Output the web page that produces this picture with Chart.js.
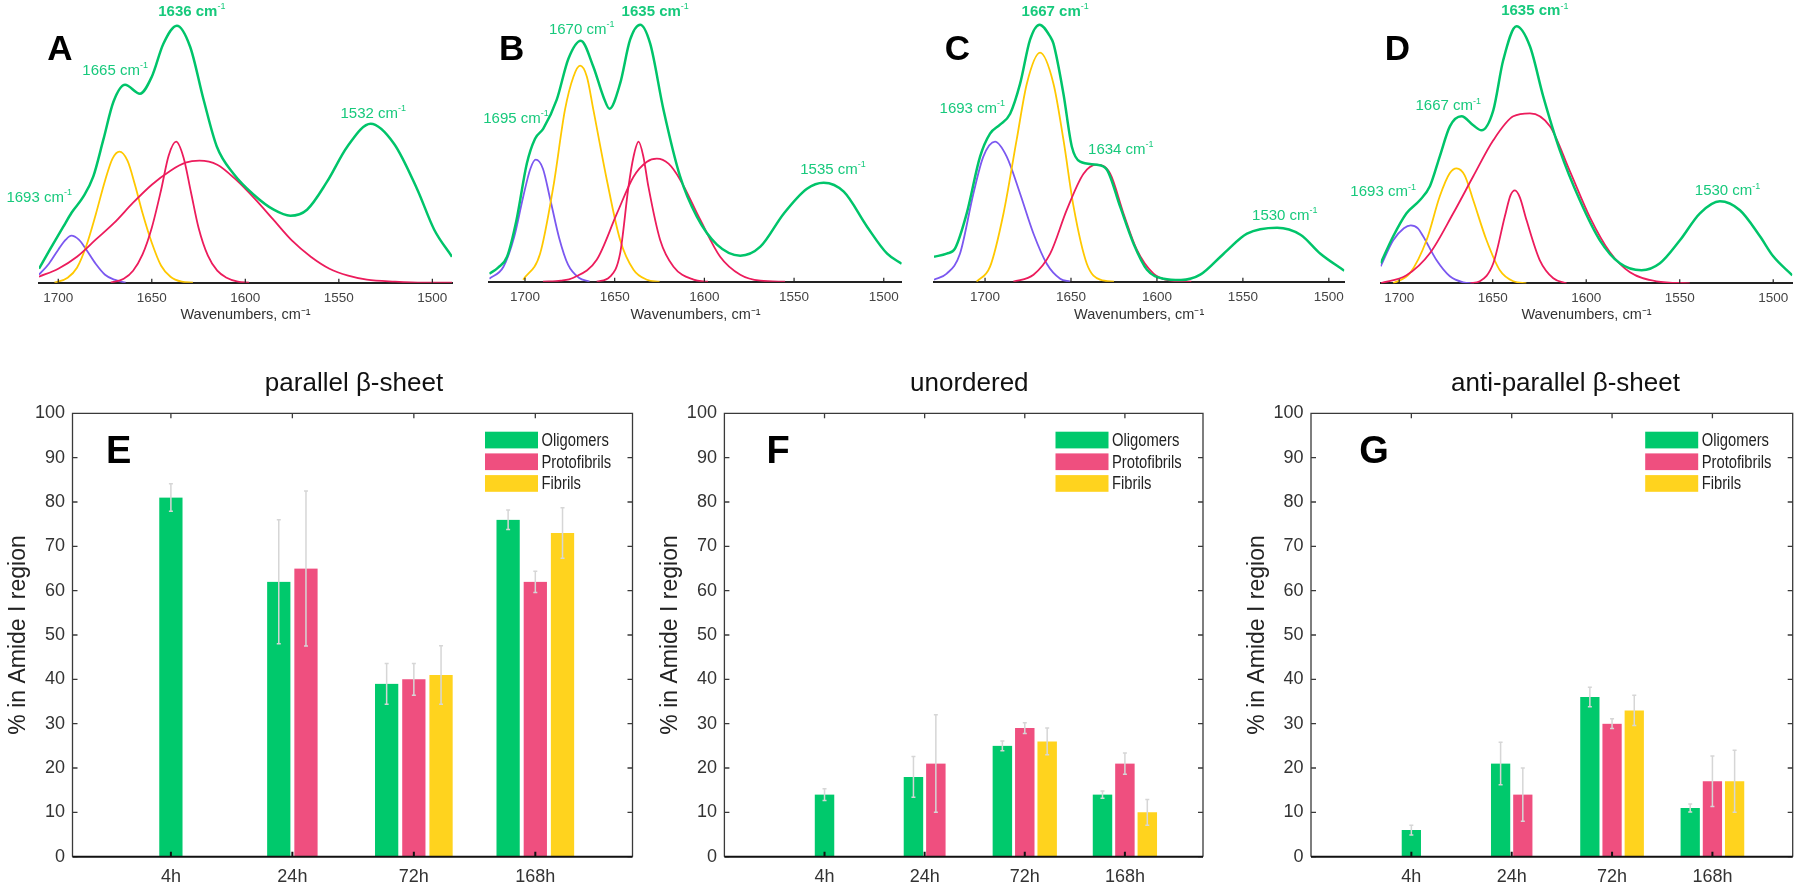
<!DOCTYPE html>
<html>
<head>
<meta charset="utf-8">
<script src="https://cdn.jsdelivr.net/npm/chart.js@4.4.1/dist/chart.umd.min.js"></script>
<style>
  body { margin: 0; background: #fff; width: 1800px; height: 888px; position: relative; overflow: hidden; }
  .panel { position: absolute; }
</style>
</head>
<body>
<div class="panel" style="left:0;top:0;width:470px;height:330px"><canvas id="specA"></canvas></div>
<div class="panel" style="left:470px;top:0;width:445px;height:330px"><canvas id="specB"></canvas></div>
<div class="panel" style="left:915px;top:0;width:445px;height:330px"><canvas id="specC"></canvas></div>
<div class="panel" style="left:1330px;top:0;width:470px;height:330px"><canvas id="specD"></canvas></div>
<div class="panel" style="left:0;top:370px;width:650px;height:518px"><canvas id="barE"></canvas></div>
<div class="panel" style="left:650px;top:370px;width:590px;height:518px"><canvas id="barF"></canvas></div>
<div class="panel" style="left:1240px;top:370px;width:560px;height:518px"><canvas id="barG"></canvas></div>
<script>
// ---- spectra, [wavenumber, absorbance a.u.] ----
var specA_sum = [[1710.3,0.14],[1704.5,0.33],[1697.3,0.56],[1692.9,0.70],[1686.6,0.86],[1681.3,1.06],[1675.9,1.43],[1670.5,1.81],[1664.3,1.98],[1656.3,1.89],[1650,2.06],[1643.8,2.39],[1636.6,2.57],[1629.5,2.36],[1622.3,1.83],[1615.2,1.36],[1606.3,1.09],[1595.5,0.88],[1584.8,0.73],[1575.9,0.67],[1567,0.73],[1556.3,1.01],[1545.5,1.36],[1533,1.59],[1520.5,1.39],[1508,0.93],[1499,0.53],[1489.5,0.26]];
var specA_1693 = [[1710.3,0.08],[1705,0.19],[1700,0.33],[1696,0.43],[1693,0.47],[1689,0.43],[1685,0.33],[1680,0.19],[1675,0.08],[1670,0.03],[1664,0]];
var specA_1665 = [[1702,0],[1695,0.05],[1690,0.15],[1685,0.37],[1680,0.68],[1675,1.02],[1671,1.24],[1667.3,1.31],[1663,1.22],[1659,0.98],[1655,0.7],[1650,0.4],[1645,0.17],[1640,0.06],[1634,0.01],[1628,0]];
var specA_1636 = [[1672,0],[1665,0.04],[1660,0.12],[1655,0.28],[1650,0.55],[1645,0.93],[1641,1.27],[1637,1.41],[1633,1.25],[1629,0.9],[1625,0.55],[1620,0.27],[1615,0.12],[1610,0.05],[1604,0.01],[1598,0]];
var specA_broad = [[1710.3,0.06],[1700,0.14],[1690,0.26],[1680,0.43],[1670,0.6],[1660,0.8],[1650,0.98],[1640,1.12],[1632,1.2],[1624.5,1.22],[1615,1.18],[1605,1.03],[1595,0.84],[1585,0.63],[1575,0.42],[1565,0.26],[1555,0.14],[1545,0.07],[1535,0.03],[1520,0.01],[1505,0],[1489.5,0]];
var specA_labels = [['1636 cm', 1628.6, 2.71, true], ['1665 cm', 1669.6, 2.12, false], ['1693 cm', 1710.2, 0.85, false], ['1532 cm', 1531.6, 1.69, false]];

var specB_sum = [[1719.9,0.08],[1715,0.14],[1710,0.25],[1704.7,0.62],[1699,1.18],[1694.4,1.43],[1689.8,1.53],[1682.3,1.82],[1675.8,2.23],[1668.9,2.41],[1661.9,2.15],[1656.3,1.85],[1652.9,1.73],[1647,1.98],[1641.4,2.42],[1635.8,2.57],[1630.2,2.38],[1622.8,1.72],[1613.5,1.05],[1604.2,0.65],[1593,0.37],[1580,0.26],[1568.8,0.35],[1555.8,0.68],[1542.8,0.93],[1533.5,0.99],[1522.3,0.9],[1509.3,0.55],[1498.1,0.28],[1490,0.18]];
var specB_1695 = [[1719.9,0.03],[1712,0.15],[1706,0.45],[1701,0.85],[1697,1.13],[1694,1.22],[1690,1.13],[1686,0.83],[1681,0.44],[1676,0.17],[1670,0.04],[1664,0]];
var specB_1670 = [[1701,0.02],[1691.6,0.28],[1684.2,0.95],[1677.7,1.72],[1673,2.05],[1669.3,2.16],[1665.5,2.05],[1661.9,1.72],[1654.4,1.02],[1647,0.42],[1639.5,0.12],[1632,0.02],[1625,0]];
var specB_1635 = [[1660,0],[1652.6,0.05],[1647,0.28],[1642.3,0.95],[1639.5,1.25],[1636.7,1.40],[1634,1.25],[1631.2,0.95],[1624.7,0.42],[1617.2,0.15],[1606,0.02],[1598,0]];
var specB_broad = [[1690,0],[1680,0.01],[1673,0.04],[1660,0.22],[1648.8,0.68],[1639.5,1.05],[1632,1.2],[1626.5,1.23],[1620,1.18],[1613.5,1.02],[1602.3,0.62],[1591.2,0.25],[1580,0.07],[1568.8,0.01],[1555,0]];
var specB_labels = [['1635 cm', 1627.4, 2.70, true], ['1670 cm', 1668.4, 2.52, false], ['1695 cm', 1705, 1.63, false], ['1535 cm', 1528.3, 1.12, false]];

var specC_sum = [[1729.7,0.25],[1722.3,0.28],[1717.5,0.33],[1710.7,0.68],[1702.9,1.25],[1697.1,1.48],[1691.3,1.57],[1685.4,1.68],[1679.6,1.98],[1673.8,2.42],[1668.3,2.57],[1662.1,2.45],[1660.2,2.38],[1654.4,1.88],[1649.5,1.35],[1644.7,1.2],[1635,1.17],[1629.1,1.12],[1621.4,0.75],[1613.6,0.38],[1605.8,0.12],[1596.1,0.03],[1586,0.017],[1574.8,0.07],[1561.2,0.28],[1547.6,0.48],[1530.1,0.54],[1516.5,0.47],[1504.9,0.28],[1491,0.11]];
var specC_1693 = [[1729.7,0.02],[1722.3,0.08],[1714.6,0.28],[1706.8,0.88],[1701,1.25],[1694.2,1.40],[1687.4,1.25],[1679.6,0.88],[1671.8,0.48],[1664.1,0.18],[1656.3,0.03],[1650.5,0]];
var specC_1667 = [[1704.9,0],[1697.1,0.15],[1689.3,0.68],[1681.6,1.42],[1675.7,1.98],[1668,2.29],[1660.2,1.98],[1654.4,1.42],[1648.5,0.75],[1640.8,0.18],[1633,0.02],[1625,0]];
var specC_1634 = [[1683.5,0],[1671.8,0.07],[1662.1,0.28],[1652.4,0.72],[1642.7,1.08],[1635,1.17],[1627.2,1.08],[1619.4,0.68],[1611.7,0.32],[1602,0.08],[1592.2,0.01],[1580,0]];
var specC_labels = [['1667 cm', 1659.2, 2.70, true], ['1693 cm', 1707.4, 1.73, false], ['1634 cm', 1621, 1.32, false], ['1530 cm', 1525.6, 0.66, false]];

var specD_sum = [[1709.9,0.2],[1703.2,0.47],[1696.1,0.7],[1689,0.83],[1683.6,0.97],[1678.3,1.27],[1672.9,1.57],[1666.7,1.67],[1660.4,1.58],[1656,1.53],[1649.7,1.73],[1644.4,2.23],[1637.3,2.57],[1630.1,2.37],[1623,1.87],[1614.1,1.33],[1603.4,0.83],[1592.7,0.43],[1582,0.2],[1570.4,0.13],[1560.6,0.2],[1549.9,0.43],[1539.2,0.7],[1528.5,0.82],[1517.8,0.73],[1507.1,0.47],[1500,0.27],[1489.8,0.08]];
var specD_1693 = [[1709.9,0.17],[1703.2,0.43],[1697.5,0.55],[1693.8,0.58],[1690,0.55],[1687.2,0.47],[1680,0.23],[1672.9,0.07],[1665.8,0.01],[1660,0]];
var specD_1667 = [[1703.2,0],[1694.3,0.1],[1685.4,0.43],[1678.3,0.87],[1673,1.1],[1669.3,1.15],[1665,1.08],[1660.4,0.83],[1653.3,0.43],[1646.2,0.13],[1639,0.02],[1632,0]];
var specD_1635 = [[1662,0],[1656.9,0.02],[1649.7,0.2],[1643.5,0.67],[1640.5,0.88],[1638.1,0.93],[1635.5,0.86],[1631.9,0.63],[1624.8,0.23],[1617.6,0.05],[1610.5,0]];
var specD_broad = [[1709.9,0],[1696.1,0.08],[1683.6,0.3],[1671.1,0.7],[1660.4,1.07],[1649.7,1.43],[1639,1.67],[1630.1,1.7],[1619.4,1.57],[1608.7,1.12],[1598,0.66],[1587.3,0.31],[1576.6,0.11],[1562.4,0.02],[1544.6,0]];
var specD_labels = [['1635 cm', 1627.5, 2.72, true], ['1667 cm', 1673.8, 1.77, false], ['1693 cm', 1708.6, 0.91, false], ['1530 cm', 1524.4, 0.92, false]];

// ---- secondary structure fractions (% of Amide I) ----
var timeLabels = ['4h', '24h', '72h', '168h'];
var seriesNames = ['Oligomers', 'Protofibrils', 'Fibrils'];

var parOligo = [81, 62, 39, 76],       parOligoErr = [3.1, 14, 4.6, 2.2];
var parProto = [null, 65, 40, 62],     parProtoErr = [0, 17.5, 3.6, 2.4];
var parFibril = [null, null, 41, 73],  parFibrilErr = [0, 0, 6.6, 5.7];

var unoOligo = [14, 18, 25, 14],       unoOligoErr = [1.3, 4.6, 1.1, 0.8];
var unoProto = [null, 21, 29, 21],     unoProtoErr = [0, 11, 1.2, 2.4];
var unoFibril = [null, null, 26, 10],  unoFibrilErr = [0, 0, 3, 2.9];

var antiOligo = [6, 21, 36, 11],       antiOligoErr = [1.1, 4.8, 2.2, 0.9];
var antiProto = [null, 14, 30, 17],    antiProtoErr = [0, 6, 1.1, 5.7];
var antiFibril = [null, null, 33, 17], antiFibrilErr = [0, 0, 3.4, 7];

/*
Colors
*/
var colors = {
    sum: '#00c46a',
    sumText: '#17c97c',
    purple: '#7b58f0',
    yellow: '#ffc800',
    red: '#ec1c5c',
    barGreen: '#00c96c',
    barPink: '#ef4f7f',
    barYellow: '#ffd31e',
    errbar: '#d6d6d6'
};

Chart.defaults.font.family = "'Liberation Sans', Arial, sans-serif";
Chart.defaults.animation = false;

// panel letter + peak labels + inward ticks for the spectra
var spectrumDecor = {
    id: 'spectrumDecor',
    afterDatasetsDraw: function (chart, args, opts) {
        var ctx = chart.ctx, xs = chart.scales.x, ys = chart.scales.y;
        var area = chart.chartArea;
        ctx.save();
        ctx.strokeStyle = '#222';
        ctx.lineWidth = 1.2;
        xs.ticks.forEach(function (t) {
            var px = xs.getPixelForValue(t.value);
            ctx.beginPath();
            ctx.moveTo(px, area.bottom);
            ctx.lineTo(px, area.bottom - 4);
            ctx.stroke();
        });
        opts.labels.forEach(function (l) {
            var px = xs.getPixelForValue(l[1]), py = ys.getPixelForValue(l[2]);
            ctx.font = (l[3] ? 'bold ' : '') + '15px "Liberation Sans", Arial, sans-serif';
            var w1 = ctx.measureText(l[0]).width;
            ctx.font = '9px "Liberation Sans", Arial, sans-serif';
            var w2 = ctx.measureText('-1').width;
            var x0 = px - (w1 + w2) / 2;
            ctx.fillStyle = colors.sumText;
            ctx.textBaseline = 'middle';
            ctx.textAlign = 'left';
            ctx.font = (l[3] ? 'bold ' : '') + '15px "Liberation Sans", Arial, sans-serif';
            ctx.fillText(l[0], x0, py);
            ctx.font = '9px "Liberation Sans", Arial, sans-serif';
            ctx.fillText('-1', x0 + w1, py - 5);
        });
        ctx.fillStyle = '#000';
        ctx.font = 'bold 35px "Liberation Sans", Arial, sans-serif';
        ctx.textAlign = 'center';
        ctx.textBaseline = 'middle';
        ctx.fillText(opts.letter, opts.letterX, opts.letterY);
        ctx.restore();
    }
};

function curve(points, color, width) {
    return {
        data: points.map(function (p) { return { x: p[0], y: p[1] }; }),
        borderColor: color,
        borderWidth: width,
        pointRadius: 0,
        fill: false,
        cubicInterpolationMode: 'monotone'
    };
}

function spectrumChart(id, datasets, labels, s) {
    new Chart(document.getElementById(id), {
        type: 'line',
        data: { datasets: datasets },
        options: {
            responsive: true,
            maintainAspectRatio: false,
            layout: { padding: { left: s.padL, right: s.padR, top: 0, bottom: 0 } },
            plugins: {
                legend: { display: false },
                tooltip: { enabled: false },
                spectrumDecor: { labels: labels, letter: s.letter, letterX: s.letterX, letterY: 50 }
            },
            scales: {
                x: {
                    type: 'linear',
                    reverse: true,
                    min: s.min,
                    max: s.max,
                    grid: { display: false, drawTicks: false },
                    border: { color: '#222', width: 2 },
                    ticks: {
                        stepSize: 50, includeBounds: false, padding: 7, color: '#444', maxRotation: 0, font: { size: 13.5 },
                        callback: function (v) { return String(v); }
                    },
                    title: { display: true, text: 'Wavenumbers, cm⁻¹', color: '#333', font: { size: 14.5 }, padding: { top: 0, bottom: 6.3 } },
                    afterFit: function (scale) { scale.height = 330 - s.base; }
                },
                y: { display: false, min: 0, max: s.base / 100 }
            }
        },
        plugins: [spectrumDecor]
    });
}

spectrumChart('specA', [
    curve(specA_sum, colors.sum, 2.5),
    curve(specA_broad, colors.red, 1.8),
    curve(specA_1636, colors.red, 1.8),
    curve(specA_1665, colors.yellow, 1.8),
    curve(specA_1693, colors.purple, 1.8)
], specA_labels, { padL: 39, padR: 18, min: 1489.5, max: 1710.3, base: 282.7, letter: 'A', letterX: 60 });

spectrumChart('specB', [
    curve(specB_sum, colors.sum, 2.5),
    curve(specB_broad, colors.red, 1.8),
    curve(specB_1635, colors.red, 1.8),
    curve(specB_1670, colors.yellow, 1.8),
    curve(specB_1695, colors.purple, 1.8)
], specB_labels, { padL: 19.3, padR: 13.3, min: 1490, max: 1719.9, base: 281.7, letter: 'B', letterX: 41.7 });

spectrumChart('specC', [
    curve(specC_sum, colors.sum, 2.5),
    curve(specC_1634, colors.red, 1.8),
    curve(specC_1667, colors.yellow, 1.8),
    curve(specC_1693, colors.purple, 1.8)
], specC_labels, { padL: 19, padR: 15.7, min: 1491, max: 1729.7, base: 281.7, letter: 'C', letterX: 42.3 });

spectrumChart('specD', [
    curve(specD_sum, colors.sum, 2.5),
    curve(specD_broad, colors.red, 1.8),
    curve(specD_1635, colors.red, 1.8),
    curve(specD_1667, colors.yellow, 1.8),
    curve(specD_1693, colors.purple, 1.8)
], specD_labels, { padL: 50.7, padR: 7.7, min: 1489.8, max: 1709.9, base: 283.3, letter: 'D', letterX: 67.3 });

// error bars, axes box, legend, title and letter for the bar panels
var barDecor = {
    id: 'barDecor',
    afterDatasetsDraw: function (chart) {
        var ctx = chart.ctx, xs = chart.scales.x, ys = chart.scales.y, a = chart.chartArea;
        ctx.save();
        ctx.strokeStyle = colors.errbar;
        ctx.lineWidth = 1.5;
        chart.data.datasets.forEach(function (ds, di) {
            chart.getDatasetMeta(di).data.forEach(function (bar, i) {
                var v = ds.data[i].y;
                if (v === null) return;
                var e = ds.errors[i];
                var y1 = ys.getPixelForValue(v - e), y2 = ys.getPixelForValue(v + e);
                ctx.beginPath();
                ctx.moveTo(bar.x, y1); ctx.lineTo(bar.x, y2);
                ctx.moveTo(bar.x - 2, y1); ctx.lineTo(bar.x + 2, y1);
                ctx.moveTo(bar.x - 2, y2); ctx.lineTo(bar.x + 2, y2);
                ctx.stroke();
            });
        });
        // box with inward ticks
        ctx.strokeStyle = '#3a3a3a';
        ctx.lineWidth = 1.3;
        ctx.beginPath();
        ctx.moveTo(a.left, a.bottom); ctx.lineTo(a.left, a.top); ctx.lineTo(a.right, a.top); ctx.lineTo(a.right, a.bottom);
        ys.ticks.forEach(function (t) {
            var py = ys.getPixelForValue(t.value);
            ctx.moveTo(a.left, py); ctx.lineTo(a.left + 5, py);
            ctx.moveTo(a.right, py); ctx.lineTo(a.right - 5, py);
        });
        xs.ticks.forEach(function (t) {
            var px = xs.getPixelForValue(t.value);
            if (t.value < 1) return;
            ctx.moveTo(px, a.top); ctx.lineTo(px, a.top + 5);
        });
        ctx.stroke();
        ctx.strokeStyle = '#111';
        ctx.lineWidth = 2;
        ctx.beginPath();
        ctx.moveTo(a.left, a.bottom); ctx.lineTo(a.right, a.bottom);
        xs.ticks.forEach(function (t) {
            if (t.value < 1) return;
            var px = xs.getPixelForValue(t.value);
            ctx.moveTo(px, a.bottom); ctx.lineTo(px, a.bottom - 5);
        });
        ctx.stroke();
        ctx.restore();
    },
    afterDraw: function (chart, args, opts) {
        var ctx = chart.ctx, a = chart.chartArea;
        ctx.save();
        // legend (narrow face imitated by a horizontal squeeze)
        var sx = a.right - 147.5, sw = 53, sh = 16.7;
        chart.data.datasets.forEach(function (ds, i) {
            var sy = a.top + 18.4 + i * 21.7;
            ctx.fillStyle = ds.backgroundColor;
            ctx.fillRect(sx, sy, sw, sh);
            ctx.save();
            ctx.translate(sx + sw + 3.5, sy + sh / 2 + 1);
            ctx.scale(0.82, 1);
            ctx.fillStyle = '#222';
            ctx.font = '18px "Liberation Sans", Arial, sans-serif';
            ctx.textAlign = 'left';
            ctx.textBaseline = 'middle';
            ctx.fillText(ds.label, 0, 0);
            ctx.restore();
        });
        ctx.fillStyle = '#111';
        ctx.font = '26px "Liberation Sans", Arial, sans-serif';
        ctx.textAlign = 'center';
        ctx.textBaseline = 'middle';
        ctx.fillText(opts.title, opts.titleX, 14);
        ctx.fillStyle = '#000';
        ctx.font = 'bold 38px "Liberation Sans", Arial, sans-serif';
        ctx.fillText(opts.letter, opts.letterX, opts.letterY);
        ctx.restore();
    }
};

function barSeries(label, values, errs, color, pitch, edge) {
    return {
        label: label,
        data: values.map(function (v, i) { return { x: i + 1, y: v }; }),
        errors: errs,
        backgroundColor: color,
        borderColor: '#ffffff',
        borderWidth: { left: edge, right: edge, top: 0, bottom: 0 },
        borderSkipped: false,
        barThickness: pitch,
        skipNull: true
    };
}

function barChart(id, datasets, s) {
    new Chart(document.getElementById(id), {
        type: 'bar',
        data: { datasets: datasets },
        options: {
            responsive: true,
            maintainAspectRatio: false,
            layout: { padding: { left: 0, right: s.padR, top: 43.3, bottom: 0 } },
            plugins: {
                legend: { display: false },
                tooltip: { enabled: false },
                barDecor: { title: s.title, titleX: s.titleX, letter: s.letter, letterX: s.letterX, letterY: 83 }
            },
            scales: {
                x: {
                    type: 'linear',
                    offset: false,
                    min: s.min,
                    max: s.max,
                    grid: { display: false, drawTicks: false },
                    border: { display: false },
                    ticks: {
                        stepSize: 1, includeBounds: false, autoSkip: false, maxRotation: 0, padding: 10,
                        color: '#333', font: { size: 18 },
                        callback: function (v) { return timeLabels[v - 1] || ''; }
                    },
                    afterFit: function (scale) { scale.height = 31.3; }
                },
                y: {
                    min: 0,
                    max: 100,
                    grid: { display: false, drawTicks: false },
                    border: { display: false },
                    ticks: { stepSize: 10, padding: 7.5, color: '#333', font: { size: 18 } },
                    title: { display: true, text: '% in Amide I region', color: '#222', font: { size: 23 }, padding: { top: s.titlePad, bottom: 0 } },
                    afterFit: function (scale) { scale.width = s.leftW; }
                }
            }
        },
        plugins: [barDecor]
    });
}

barChart('barE', [
    barSeries(seriesNames[0], parOligo, parOligoErr, colors.barGreen, 27.2, 2.3),
    barSeries(seriesNames[1], parProto, parProtoErr, colors.barPink, 27.2, 2.3),
    barSeries(seriesNames[2], parFibril, parFibrilErr, colors.barYellow, 27.2, 2.3)
], { padR: 17.5, leftW: 72.5, titlePad: 5.2, min: 0.19, max: 4.8, title: 'parallel β-sheet', titleX: 354, letter: 'E', letterX: 118.6 });

barChart('barF', [
    barSeries(seriesNames[0], unoOligo, unoOligoErr, colors.barGreen, 22.4, 1.8),
    barSeries(seriesNames[1], unoProto, unoProtoErr, colors.barPink, 22.4, 1.8),
    barSeries(seriesNames[2], unoFibril, unoFibrilErr, colors.barYellow, 22.4, 1.8)
], { padR: 37, leftW: 74.4, titlePad: 7, min: 0, max: 4.78, title: 'unordered', titleX: 319.3, letter: 'F', letterX: 128 });

barChart('barG', [
    barSeries(seriesNames[0], antiOligo, antiOligoErr, colors.barGreen, 22.2, 1.8),
    barSeries(seriesNames[1], antiProto, antiProtoErr, colors.barPink, 22.2, 1.8),
    barSeries(seriesNames[2], antiFibril, antiFibrilErr, colors.barYellow, 22.2, 1.8)
], { padR: 7.3, leftW: 71, titlePad: 3.6, min: 0, max: 4.8, title: 'anti-parallel β-sheet', titleX: 325.5, letter: 'G', letterX: 134 });
</script>
</body>
</html>
